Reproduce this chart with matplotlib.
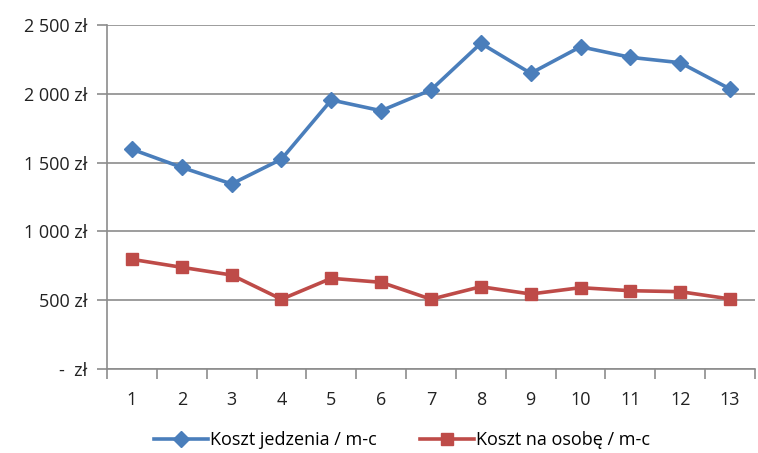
import numpy as np
import matplotlib
matplotlib.use("Agg")
import matplotlib.pyplot as plt
from matplotlib.ticker import FuncFormatter, FixedLocator

months = list(range(1, 14))
food_cost = [1597, 1465, 1345, 1525, 1955, 1877, 2028, 2367, 2149, 2342, 2265, 2226, 2035]
cost_per_person = [797, 739, 683, 507, 659, 630, 507, 598, 545, 591, 569, 562, 509]
y_ticks = [0, 500, 1000, 1500, 2000, 2500]

plt.rcParams["font.family"] = ["Open Sans", "DejaVu Sans"]


def zl(v, pos):
    if v == 0:
        return "-  zł"
    return f"{int(v):,} zł".replace(",", " ")


fig = plt.figure(figsize=(7.58, 4.53), dpi=100)
ax = fig.add_axes([107 / 758, 1 - 369 / 453, 648 / 758, 344 / 453])

ax.plot(months, food_cost, color="#4A7EBB", lw=2.6, marker="D", ms=8,
        markeredgecolor="#4A7EBB", label="Koszt jedzenia / m-c", zorder=3)
ax.plot(months, cost_per_person, color="#BE4B48", lw=2.6, marker="s", ms=9,
        markeredgecolor="#BE4B48", label="Koszt na osobę / m-c", zorder=3)

ax.set_xlim(0.5, 13.5)
ax.set_ylim(0, 2500)
ax.set_yticks(y_ticks)
ax.yaxis.set_major_formatter(FuncFormatter(zl))
ax.set_xticks(months)
ax.set_xticklabels([str(m) for m in months])
ax.xaxis.set_minor_locator(FixedLocator(np.arange(0.5, 14, 1)))

ax.grid(axis="y", color="#8c8c8c", lw=1.2)
ax.set_axisbelow(True)
for s in ["top", "right"]:
    ax.spines[s].set_visible(False)
for s in ["left", "bottom"]:
    ax.spines[s].set_color("#8c8c8c")
    ax.spines[s].set_linewidth(1.2)

ax.tick_params(axis="x", which="major", length=0, pad=16, labelsize=13, colors="#222222")
ax.tick_params(axis="x", which="minor", length=7, width=1.2, color="#8c8c8c")
ax.tick_params(axis="y", length=7, width=1.2, color="#8c8c8c", pad=7,
               labelsize=13, labelcolor="#222222")

fig.legend(loc="lower center", bbox_to_anchor=(0.53, -0.028), ncol=2, frameon=False,
           fontsize=13, handlelength=3, columnspacing=2.4, handletextpad=0.1)

fig.savefig("out.png", dpi=100)
